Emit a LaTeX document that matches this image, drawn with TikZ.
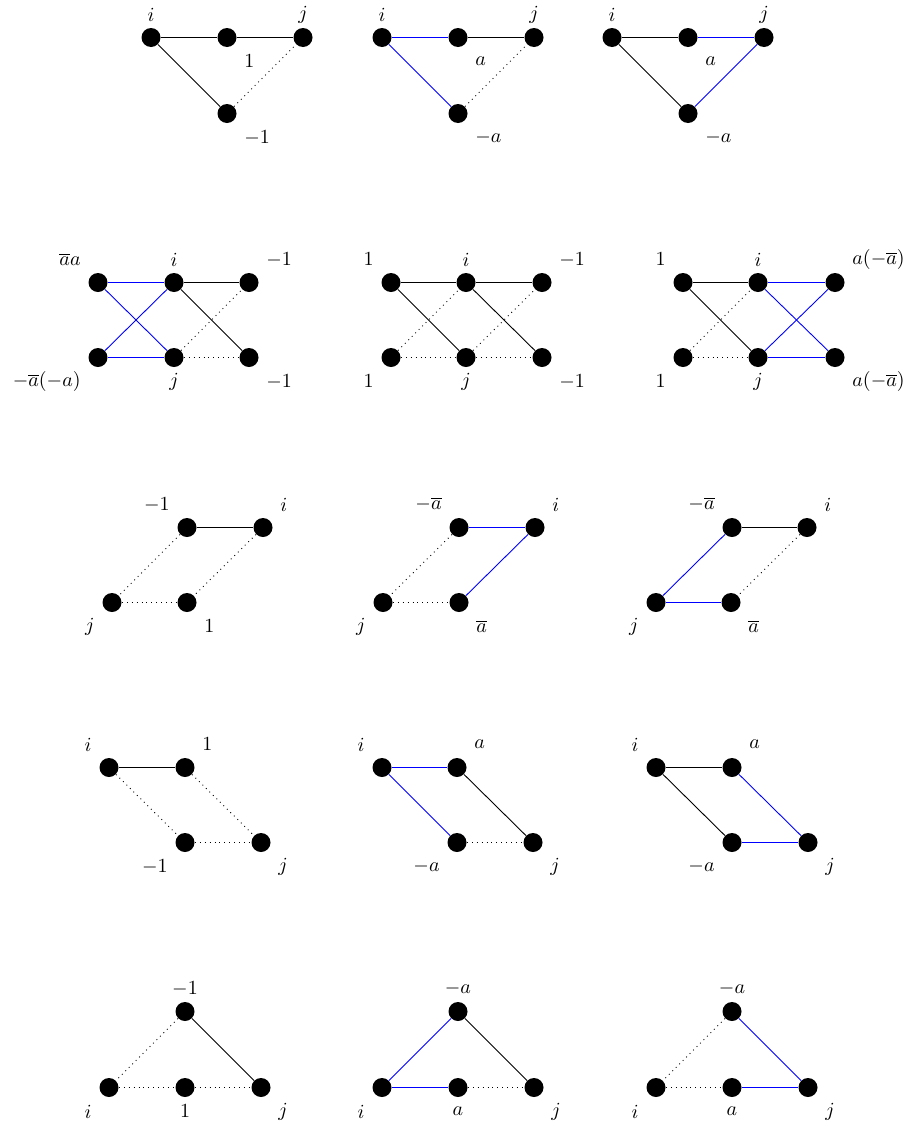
\documentclass[tikz,border=0pt]{standalone}
\begin{document}
\begin{tikzpicture}[x=0.5pt,y=-0.5pt,
  dot/.style={circle,fill=black,inner sep=0pt,minimum size=9.5pt},
  lbase/.style={inner sep=0pt},
  lAL/.style={lbase,anchor=east,xshift=-8.5pt,yshift=11.5pt},
  lAR/.style={lbase,anchor=west,xshift=8.5pt,yshift=11.5pt},
  lAB/.style={lbase,yshift=11.5pt},
  lBL/.style={lbase,anchor=east,xshift=-8.5pt,yshift=-12pt},
  lBR/.style={lbase,anchor=west,xshift=8.5pt,yshift=-12pt},
  lBE/.style={lbase,yshift=-12pt},
  ke/.style={line width=0.45pt,black},
  be/.style={line width=0.45pt,blue},
  de/.style={line width=0.45pt,black,dotted}]
\useasboundingbox (0,0) rectangle (909,1125);
\begin{scope}[yshift=-0.25pt]
% ---------- Row 1 ----------
\node[dot] (a1) at (151,37) {}; \node[dot] (b1) at (227,37) {}; \node[dot] (c1) at (303,37) {}; \node[dot] (d1) at (227,113) {};
\node[dot] (a2) at (382,37) {}; \node[dot] (b2) at (458,37) {}; \node[dot] (c2) at (534,37) {}; \node[dot] (d2) at (458,113) {};
\node[dot] (a3) at (612,37) {}; \node[dot] (b3) at (688,37) {}; \node[dot] (c3) at (764,37) {}; \node[dot] (d3) at (688,113) {};
\node[lAB] (la1) at (a1) {$i$}; \node[lAB] (lc1) at (c1) {$j$}; \node[lBR] (lb1) at (b1) {$1$}; \node[lBR] (ld1) at (d1) {$-1$};
\node[lAB] (la2) at (a2) {$i$}; \node[lAB] (lc2) at (c2) {$j$}; \node[lBR] (lb2) at (b2) {$a$}; \node[lBR] (ld2) at (d2) {$-a$};
\node[lAB] (la3) at (a3) {$i$}; \node[lAB] (lc3) at (c3) {$j$}; \node[lBR] (lb3) at (b3) {$a$}; \node[lBR] (ld3) at (d3) {$-a$};
\draw[ke] (a1) -- (b1); \draw[ke] (b1) -- (c1); \draw[ke] (a1) -- (d1); \draw[de] (d1) -- (c1);
\draw[be] (a2) -- (b2); \draw[ke] (b2) -- (c2); \draw[be] (a2) -- (d2); \draw[de] (d2) -- (c2);
\draw[ke] (a3) -- (b3); \draw[be] (b3) -- (c3); \draw[ke] (a3) -- (d3); \draw[be] (d3) -- (c3);

% ---------- Row 2 ----------
\node[dot] (tl1) at (98,282) {}; \node[dot] (tm1) at (174,282) {}; \node[dot] (tr1) at (249,282) {};
\node[dot] (bl1) at (98,357) {}; \node[dot] (bm1) at (174,357) {}; \node[dot] (br1) at (249,357) {};
\node[dot] (tl2) at (391,282) {}; \node[dot] (tm2) at (466,282) {}; \node[dot] (tr2) at (542,282) {};
\node[dot] (bl2) at (391,357) {}; \node[dot] (bm2) at (466,357) {}; \node[dot] (br2) at (542,357) {};
\node[dot] (tl3) at (683,282) {}; \node[dot] (tm3) at (758,282) {}; \node[dot] (tr3) at (835,282) {};
\node[dot] (bl3) at (683,357) {}; \node[dot] (bm3) at (758,357) {}; \node[dot] (br3) at (835,357) {};
\node[lAL] (ltl1) at (tl1) {$\overline{a}a$}; \node[lAB] (ltm1) at (tm1) {$i$}; \node[lAR] (ltr1) at (tr1) {$-1$};
\node[lBL] (lbl1) at (bl1) {$-\overline{a}(-a)$}; \node[lBE] (lbm1) at (bm1) {$j$}; \node[lBR] (lbr1) at (br1) {$-1$};
\node[lAL] (ltl2) at (tl2) {$1$}; \node[lAB] (ltm2) at (tm2) {$i$}; \node[lAR] (ltr2) at (tr2) {$-1$};
\node[lBL] (lbl2) at (bl2) {$1$}; \node[lBE] (lbm2) at (bm2) {$j$}; \node[lBR] (lbr2) at (br2) {$-1$};
\node[lAL] (ltl3) at (tl3) {$1$}; \node[lAB] (ltm3) at (tm3) {$i$}; \node[lAR] (ltr3) at (tr3) {$a(-\overline{a})$};
\node[lBL] (lbl3) at (bl3) {$1$}; \node[lBE] (lbm3) at (bm3) {$j$}; \node[lBR] (lbr3) at (br3) {$a(-\overline{a})$};
\draw[be] (tl1) -- (tm1); \draw[be] (tl1) -- (bm1); \draw[be] (bl1) -- (tm1); \draw[be] (bl1) -- (bm1);
\draw[ke] (tm1) -- (tr1); \draw[ke] (tm1) -- (br1); \draw[de] (bm1) -- (tr1); \draw[de] (bm1) -- (br1);
\draw[ke] (tl2) -- (tm2); \draw[ke] (tl2) -- (bm2); \draw[de] (bl2) -- (tm2); \draw[de] (bl2) -- (bm2);
\draw[ke] (tm2) -- (tr2); \draw[ke] (tm2) -- (br2); \draw[de] (bm2) -- (tr2); \draw[de] (bm2) -- (br2);
\draw[ke] (tl3) -- (tm3); \draw[ke] (tl3) -- (bm3); \draw[de] (bl3) -- (tm3); \draw[de] (bl3) -- (bm3);
\draw[be] (tm3) -- (tr3); \draw[be] (tm3) -- (br3); \draw[be] (bm3) -- (tr3); \draw[be] (bm3) -- (br3);

% ---------- Row 3 ----------
\node[dot] (s1) at (187,527) {}; \node[dot] (t1) at (263,527) {}; \node[dot] (u1) at (112,602) {}; \node[dot] (v1) at (187,602) {};
\node[dot] (s2) at (459,527) {}; \node[dot] (t2) at (535,527) {}; \node[dot] (u2) at (383,602) {}; \node[dot] (v2) at (459,602) {};
\node[dot] (s3) at (732,527) {}; \node[dot] (t3) at (807,527) {}; \node[dot] (u3) at (656,602) {}; \node[dot] (v3) at (731,602) {};
\node[lAL] (ls1) at (s1) {$-1$}; \node[lAR] (lt1) at (t1) {$i$}; \node[lBL] (lu1) at (u1) {$j$}; \node[lBR] (lv1) at (v1) {$1$};
\node[lAL] (ls2) at (s2) {$-\overline{a}$}; \node[lAR] (lt2) at (t2) {$i$}; \node[lBL] (lu2) at (u2) {$j$}; \node[lBR] (lv2) at (v2) {$\overline{a}$};
\node[lAL] (ls3) at (s3) {$-\overline{a}$}; \node[lAR] (lt3) at (t3) {$i$}; \node[lBL] (lu3) at (u3) {$j$}; \node[lBR] (lv3) at (v3) {$\overline{a}$};
\draw[ke] (s1) -- (t1); \draw[de] (s1) -- (u1); \draw[de] (t1) -- (v1); \draw[de] (u1) -- (v1);
\draw[be] (s2) -- (t2); \draw[de] (s2) -- (u2); \draw[be] (t2) -- (v2); \draw[de] (u2) -- (v2);
\draw[ke] (s3) -- (t3); \draw[be] (s3) -- (u3); \draw[de] (t3) -- (v3); \draw[be] (u3) -- (v3);

% ---------- Row 4 ----------
\node[dot] (w1) at (109,767) {}; \node[dot] (x1) at (185,767) {}; \node[dot] (y1) at (185,842) {}; \node[dot] (z1) at (261,842) {};
\node[dot] (w2) at (382,767) {}; \node[dot] (x2) at (457,767) {}; \node[dot] (y2) at (457,842) {}; \node[dot] (z2) at (533,842) {};
\node[dot] (w3) at (656,767) {}; \node[dot] (x3) at (732,767) {}; \node[dot] (y3) at (732,842) {}; \node[dot] (z3) at (808,842) {};
\node[lAL] (lw1) at (w1) {$i$}; \node[lAR] (lx1) at (x1) {$1$}; \node[lBL] (ly1) at (y1) {$-1$}; \node[lBR] (lz1) at (z1) {$j$};
\node[lAL] (lw2) at (w2) {$i$}; \node[lAR] (lx2) at (x2) {$a$}; \node[lBL] (ly2) at (y2) {$-a$}; \node[lBR] (lz2) at (z2) {$j$};
\node[lAL] (lw3) at (w3) {$i$}; \node[lAR] (lx3) at (x3) {$a$}; \node[lBL] (ly3) at (y3) {$-a$}; \node[lBR] (lz3) at (z3) {$j$};
\draw[ke] (w1) -- (x1); \draw[de] (w1) -- (y1); \draw[de] (x1) -- (z1); \draw[de] (y1) -- (z1);
\draw[be] (w2) -- (x2); \draw[be] (w2) -- (y2); \draw[ke] (x2) -- (z2); \draw[de] (y2) -- (z2);
\draw[ke] (w3) -- (x3); \draw[ke] (w3) -- (y3); \draw[be] (x3) -- (z3); \draw[be] (y3) -- (z3);

% ---------- Row 5 ----------
\node[dot] (h1) at (185,1011) {}; \node[dot] (m1) at (109,1087) {}; \node[dot] (n1) at (185,1087) {}; \node[dot] (q1) at (261,1087) {};
\node[dot] (h2) at (458,1011) {}; \node[dot] (m2) at (382,1087) {}; \node[dot] (n2) at (458,1087) {}; \node[dot] (q2) at (534,1087) {};
\node[dot] (h3) at (732,1011) {}; \node[dot] (m3) at (656,1087) {}; \node[dot] (n3) at (732,1087) {}; \node[dot] (q3) at (808,1087) {};
\node[lAB] (lh1) at (h1) {$-1$}; \node[lBL] (lm1) at (m1) {$i$}; \node[lBE] (ln1) at (n1) {$1$}; \node[lBR] (lq1) at (q1) {$j$};
\node[lAB] (lh2) at (h2) {$-a$}; \node[lBL] (lm2) at (m2) {$i$}; \node[lBE] (ln2) at (n2) {$a$}; \node[lBR] (lq2) at (q2) {$j$};
\node[lAB] (lh3) at (h3) {$-a$}; \node[lBL] (lm3) at (m3) {$i$}; \node[lBE] (ln3) at (n3) {$a$}; \node[lBR] (lq3) at (q3) {$j$};
\draw[de] (h1) -- (m1); \draw[ke] (h1) -- (q1); \draw[de] (m1) -- (n1); \draw[de] (n1) -- (q1);
\draw[be] (h2) -- (m2); \draw[ke] (h2) -- (q2); \draw[be] (m2) -- (n2); \draw[de] (n2) -- (q2);
\draw[de] (h3) -- (m3); \draw[be] (h3) -- (q3); \draw[de] (m3) -- (n3); \draw[be] (n3) -- (q3);
\end{scope}
\end{tikzpicture}
\end{document}
